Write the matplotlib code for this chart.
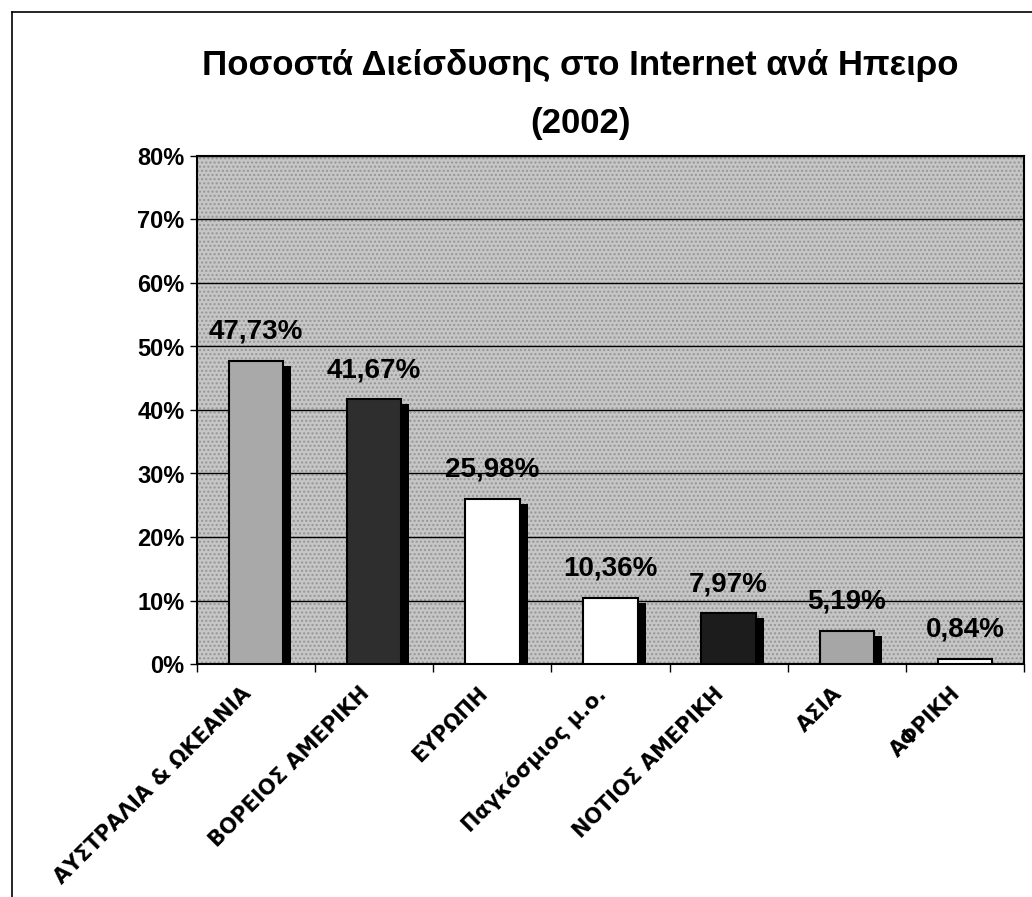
import matplotlib
matplotlib.use("Agg")
import matplotlib.pyplot as plt
from matplotlib.patches import Rectangle
from matplotlib.lines import Line2D
from matplotlib.transforms import ScaledTranslation

categories = ["ΑΥΣΤΡΑΛΙΑ & ΩΚΕΑΝΙΑ", "ΒΟΡΕΙΟΣ ΑΜΕΡΙΚΗ", "ΕΥΡΩΠΗ", "Παγκόσμιος μ.ο.",
              "ΝΟΤΙΟΣ ΑΜΕΡΙΚΗ", "ΑΣΙΑ", "ΑΦΡΙΚΗ"]
values = [47.73, 41.67, 25.98, 10.36, 7.97, 5.19, 0.84]
value_labels = ["47,73%", "41,67%", "25,98%", "10,36%", "7,97%", "5,19%", "0,84%"]
bar_colors = ["#a9a9a9", "#2e2e2e", "#ffffff", "#ffffff", "#1c1c1c", "#a6a6a6", "#ffffff"]
yticks = [0, 10, 20, 30, 40, 50, 60, 70, 80]
ytick_labels = ["0%", "10%", "20%", "30%", "40%", "50%", "60%", "70%", "80%"]
title_lines = ["Ποσοστά Διείσδυσης στο Internet ανά Ηπειρο", "(2002)"]

fig = plt.figure(figsize=(10.32, 8.97), dpi=100)
fig.patch.set_facecolor("white")
ax = fig.add_axes([197/1032, 1-664/897, (1024-197)/1032, (664-156)/897])
ax.set_facecolor("#c6c6c6")
ax.add_patch(Rectangle((0, 0), 1, 1, transform=ax.transAxes, facecolor="none",
                       edgecolor="#959595", hatch="....", linewidth=0, zorder=0.5))

n = len(categories)
x = list(range(n))
ax.set_xlim(-0.5, n - 0.5)
ax.set_ylim(0, 80)
ax.set_yticks(yticks)
ax.set_yticklabels(ytick_labels, fontsize=17, fontweight="bold", family="Liberation Sans")
ax.yaxis.grid(True, color="black", linewidth=1.0, zorder=1)
ax.set_axisbelow(True)

w = 0.46
dx = 0.068
dy = 0.8
shadow_vals = [max(v - dy, 0) for v in values]
ax.bar([xi + dx for xi in x], shadow_vals, width=w, color="black", zorder=2)
ax.bar(x, values, width=w, color=bar_colors, edgecolor="black", linewidth=1.5, zorder=3)

for xi, v, lab in zip(x, values, value_labels):
    ax.annotate(lab, (xi, v), xytext=(0, 16), textcoords="offset points",
                ha="center", va="baseline", fontsize=20, fontweight="bold",
                family="Liberation Sans", zorder=5)

ax.set_xticks(x)
ax.set_xticklabels(categories, rotation=45, ha="right", rotation_mode="anchor",
                   fontsize=15, fontweight="bold", family="DejaVu Sans")
ax.tick_params(axis="x", which="major", length=0, pad=14)
shift = ScaledTranslation(-0.15, 0, fig.dpi_scale_trans)
for lbl in ax.get_xticklabels():
    lbl.set_transform(lbl.get_transform() + shift)
ax.set_xticks([i - 0.5 for i in range(n + 1)], minor=True)
ax.tick_params(axis="x", which="minor", length=6, width=1, direction="out")
ax.tick_params(axis="y", length=5, width=1, direction="out", pad=4)

for s in ax.spines.values():
    s.set_color("black")
    s.set_linewidth(1.5)

fig.text(580/1032, 1-66/897, title_lines[0], ha="center", va="center", fontsize=25,
         fontweight="bold", family="Liberation Sans")
fig.text(580/1032, 1-124/897, title_lines[1], ha="center", va="center", fontsize=25,
         fontweight="bold", family="Liberation Sans")

# chart area border (top and left)
fig.add_artist(Line2D([12/1032, 1.0], [1-12/897, 1-12/897], color="black", linewidth=1.2))
fig.add_artist(Line2D([12/1032, 12/1032], [0.0, 1-12/897], color="black", linewidth=1.2))

fig.savefig("out.png", dpi=100)
